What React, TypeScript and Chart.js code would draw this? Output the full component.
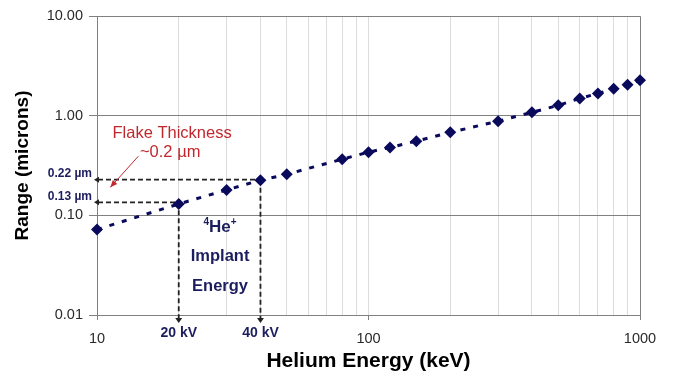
import React, { useEffect, useRef } from 'react';
import { Chart, registerables } from 'chart.js';

Chart.register(...registerables);

// Helium implant energy (keV) vs projected range (microns)
const energies = [10, 20, 30, 40, 50, 80, 100, 120, 150, 200, 300, 400, 500, 600, 700, 800, 900, 1000];
const ranges = [0.072, 0.13, 0.18, 0.225, 0.258, 0.366, 0.43, 0.48, 0.555, 0.68, 0.88, 1.08, 1.27, 1.49, 1.67, 1.86, 2.04, 2.27];

const yTickValues = [0.01, 0.1, 1, 10];
const xGridValues = [10, 20, 30, 40, 50, 60, 70, 80, 90, 100, 200, 300, 400, 500, 600, 700, 800, 900, 1000];
const xLabelValues = [10, 100, 1000];

// reference markers
const implantEnergies = [20, 40];
const implantRanges = [0.135, 0.228];
const implantEnergyLabels = ['20 kV', '40 kV'];
const implantRangeLabels = ['0.13 µm', '0.22 µm'];

// annotation anchors (data units)
const flakeTitle = { text: 'Flake Thickness', x: 18.9, y: 0.667 };
const flakeValue = { text: '~0.2 µm', x: 18.6, y: 0.43 };
const flakeArrow = { x0: 14.2, y0: 0.392, x1: 11.2, y1: 0.191 };
const implantText = { x: 28.4, lines: ['Implant', 'Energy'], yHe: 0.0758, yLines: [0.0387, 0.0193] };

const FONT = '"Liberation Sans", Arial, Helvetica, sans-serif';
const NAVY = '#0a0a5c';
const TEXT_NAVY = '#1c1d5e';
const RED = '#c0282d';
const GRAY = '#808080';

const annotPlugin = {
  id: 'annot',
  beforeDatasetsDraw(chart: any) {
    const { ctx, chartArea: a, scales } = chart;
    const x = scales.x, y = scales.y;
    ctx.save();
    // top & right border
    ctx.strokeStyle = GRAY;
    ctx.lineWidth = 1;
    ctx.beginPath();
    ctx.moveTo(a.left, a.top + 0.5);
    ctx.lineTo(a.right + 0.5, a.top + 0.5);
    ctx.lineTo(a.right + 0.5, a.bottom);
    ctx.stroke();

    // dashed reference lines
    ctx.strokeStyle = '#222';
    ctx.fillStyle = '#222';
    ctx.lineWidth = 1.8;
    ctx.setLineDash([5, 3]);
    implantEnergies.forEach((e, i) => {
      const px = x.getPixelForValue(e);
      const py = y.getPixelForValue(implantRanges[i]);
      ctx.beginPath();
      ctx.moveTo(a.left + 1, py);
      ctx.lineTo(px, py);
      ctx.moveTo(px, py);
      ctx.lineTo(px, a.bottom + 3);
      ctx.stroke();
    });
    ctx.setLineDash([]);
    implantEnergies.forEach((e, i) => {
      const px = x.getPixelForValue(e);
      const py = y.getPixelForValue(implantRanges[i]);
      ctx.beginPath();
      ctx.moveTo(a.left - 3, py);
      ctx.lineTo(a.left + 2, py - 3);
      ctx.lineTo(a.left + 2, py + 3);
      ctx.closePath();
      ctx.fill();
      ctx.beginPath();
      ctx.moveTo(px, a.bottom + 8);
      ctx.lineTo(px - 3.5, a.bottom + 3);
      ctx.lineTo(px + 3.5, a.bottom + 3);
      ctx.closePath();
      ctx.fill();
    });
    ctx.restore();
  },
  afterDraw(chart: any) {
    const { ctx, chartArea: a, scales } = chart;
    const x = scales.x, y = scales.y;
    ctx.save();
    ctx.textBaseline = 'middle';

    // range labels on the left
    ctx.fillStyle = TEXT_NAVY;
    ctx.font = `bold 12px ${FONT}`;
    ctx.textAlign = 'right';
    implantRanges.forEach((r, i) => {
      const py = y.getPixelForValue(r);
      ctx.fillText(implantRangeLabels[i], a.left - 5, py - 6);
    });

    // energy labels below axis
    ctx.font = `bold 14px ${FONT}`;
    ctx.textAlign = 'center';
    implantEnergies.forEach((e, i) => {
      const px = x.getPixelForValue(e);
      ctx.fillText(implantEnergyLabels[i], px, a.bottom + 18);
    });

    // 4He+ Implant Energy
    const cx = x.getPixelForValue(implantText.x);
    ctx.font = `bold 17px ${FONT}`;
    const wHe = ctx.measureText('He').width;
    ctx.font = `bold 10px ${FONT}`;
    const w4 = ctx.measureText('4').width;
    const wp = ctx.measureText('+').width;
    const total = w4 + wHe + wp;
    const hy = y.getPixelForValue(implantText.yHe);
    let sx = cx - total / 2;
    ctx.textAlign = 'left';
    ctx.fillText('4', sx, hy - 5);
    sx += w4;
    ctx.font = `bold 17px ${FONT}`;
    ctx.fillText('He', sx, hy);
    sx += wHe;
    ctx.font = `bold 10px ${FONT}`;
    ctx.fillText('+', sx, hy - 5);
    ctx.font = `bold 16.5px ${FONT}`;
    ctx.textAlign = 'center';
    implantText.lines.forEach((t, i) => {
      ctx.fillText(t, cx, y.getPixelForValue(implantText.yLines[i]));
    });

    // flake thickness note
    ctx.fillStyle = RED;
    ctx.font = `16.5px ${FONT}`;
    ctx.fillText(flakeTitle.text, x.getPixelForValue(flakeTitle.x), y.getPixelForValue(flakeTitle.y));
    ctx.fillText(flakeValue.text, x.getPixelForValue(flakeValue.x), y.getPixelForValue(flakeValue.y));
    const ax0 = x.getPixelForValue(flakeArrow.x0), ay0 = y.getPixelForValue(flakeArrow.y0);
    const ax1 = x.getPixelForValue(flakeArrow.x1), ay1 = y.getPixelForValue(flakeArrow.y1);
    ctx.strokeStyle = RED;
    ctx.lineWidth = 1;
    ctx.beginPath();
    ctx.moveTo(ax0, ay0);
    ctx.lineTo(ax1, ay1);
    ctx.stroke();
    const ang = Math.atan2(ay1 - ay0, ax1 - ax0);
    const hl = 7, hw = 3;
    ctx.beginPath();
    ctx.moveTo(ax1, ay1);
    ctx.lineTo(ax1 - hl * Math.cos(ang) + hw * Math.sin(ang), ay1 - hl * Math.sin(ang) - hw * Math.cos(ang));
    ctx.lineTo(ax1 - hl * Math.cos(ang) - hw * Math.sin(ang), ay1 - hl * Math.sin(ang) + hw * Math.cos(ang));
    ctx.closePath();
    ctx.fill();

    // axis titles
    ctx.fillStyle = '#000';
    ctx.font = `bold 21px ${FONT}`;
    ctx.textAlign = 'center';
    ctx.fillText('Helium Energy (keV)', (a.left + a.right) / 2, 361);
    ctx.save();
    ctx.translate(23, (a.top + a.bottom) / 2);
    ctx.rotate(-Math.PI / 2);
    ctx.font = `bold 19px ${FONT}`;
    ctx.fillText('Range (microns)', 0, 0);
    ctx.restore();

    ctx.restore();
  },
};

export default function App() {
  const ref = useRef<HTMLCanvasElement | null>(null);
  useEffect(() => {
    if (!ref.current) return;
    const chart = new Chart(ref.current, {
      type: 'scatter',
      data: {
        datasets: [
          {
            data: energies.map((e, i) => ({ x: e, y: ranges[i] })),
            showLine: true,
            clip: false,
            borderColor: NAVY,
            backgroundColor: NAVY,
            borderWidth: 3,
            borderDash: [5, 8],
            pointStyle: 'rectRot',
            pointRadius: 6,
            pointBorderWidth: 0,
            pointBackgroundColor: NAVY,
          },
        ],
      },
      options: {
        responsive: false,
        animation: false,
        layout: { padding: { top: 16, right: 33, left: 0, bottom: 0 } },
        plugins: { legend: { display: false }, tooltip: { enabled: false } },
        scales: {
          x: {
            type: 'logarithmic',
            min: 10,
            max: 1000,
            afterBuildTicks: (s: any) => {
              s.ticks = xGridValues.map((v) => ({ value: v, major: xLabelValues.includes(v) }));
            },
            afterFit: (s: any) => {
              s.height = 58;
            },
            ticks: {
              autoSkip: false,
              maxRotation: 0,
              minRotation: 0,
              padding: 10,
              color: '#2a2a2a',
              font: { family: FONT, size: 14.5 },
              callback: (v: any) => (xLabelValues.includes(Number(v)) ? String(v) : ''),
            },
            grid: {
              color: '#dcdcdc',
              lineWidth: 1,
              tickLength: 5,
              tickColor: (c: any) => (c.tick && xLabelValues.includes(c.tick.value) ? GRAY : 'rgba(0,0,0,0)'),
            },
            border: { color: GRAY, width: 1 },
          },
          y: {
            type: 'logarithmic',
            min: 0.01,
            max: 10,
            afterBuildTicks: (s: any) => {
              s.ticks = yTickValues.map((v) => ({ value: v, major: true }));
            },
            afterFit: (s: any) => {
              s.width = 97;
            },
            ticks: {
              padding: 6,
              color: '#2a2a2a',
              font: { family: FONT, size: 14.5 },
              callback: (v: any) => Number(v).toFixed(2),
            },
            grid: { color: GRAY, lineWidth: 1, tickLength: 8, tickColor: GRAY },
            border: { color: GRAY, width: 1 },
          },
        },
      },
      plugins: [annotPlugin],
    } as any);
    return () => chart.destroy();
  }, []);
  return (
    <div style={{ position: 'fixed', left: 0, top: 0, width: 673, height: 373, background: '#fff' }}>
      <canvas ref={ref} width={673} height={373} style={{ display: 'block' }} />
    </div>
  );
}
